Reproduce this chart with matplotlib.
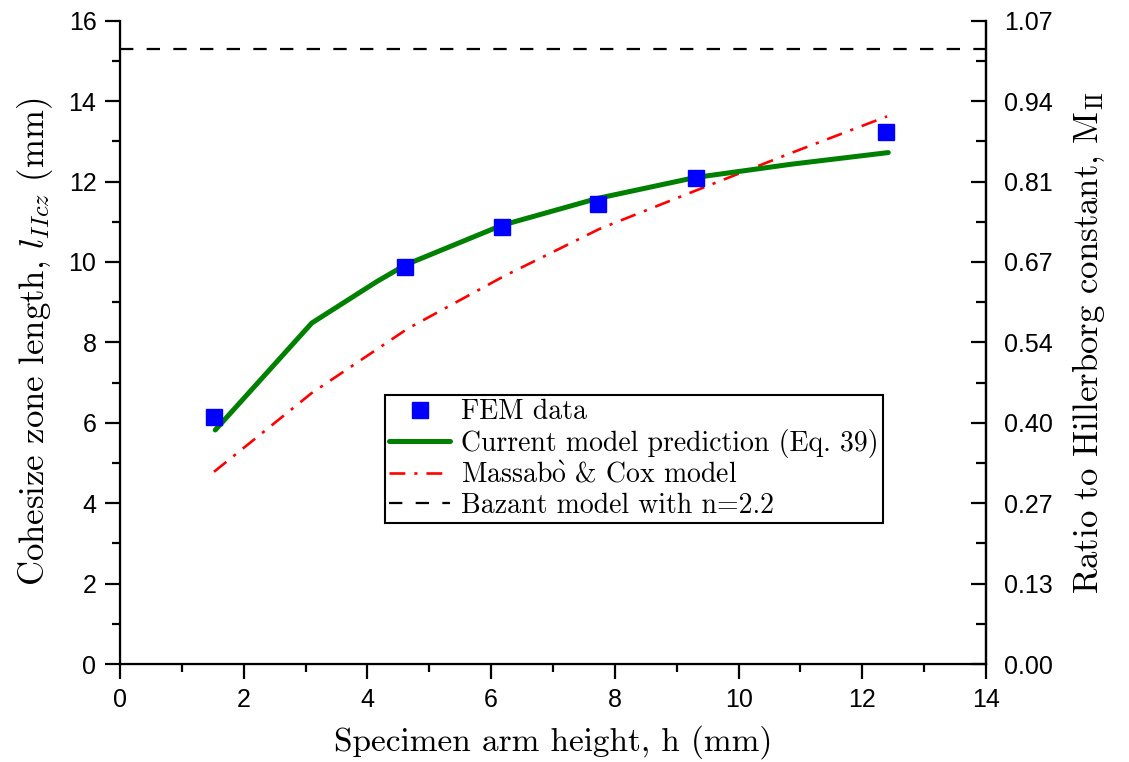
import matplotlib
matplotlib.use("Agg")
import matplotlib.pyplot as plt
from matplotlib.ticker import MultipleLocator, FixedLocator

# FEM results
fem_h = [1.52, 4.61, 6.17, 7.72, 9.31, 12.39]
fem_l = [6.14, 9.88, 10.88, 11.45, 12.10, 13.22]

# Current model prediction (Eq. 39)
cur_h = [1.54, 3.10, 4.15, 4.62, 6.17, 7.72, 9.30, 10.85, 12.42]
cur_l = [5.82, 8.48, 9.51, 9.93, 10.91, 11.58, 12.10, 12.43, 12.72]

# Massabò & Cox model
mc_h = [1.52, 3.10, 4.65, 6.20, 7.75, 9.30, 10.85, 12.40]
mc_l = [4.78, 6.74, 8.34, 9.64, 10.82, 11.77, 12.71, 13.62]

# Bazant model with n=2.2
bazant_l = 15.3

x_ticks = [0, 2, 4, 6, 8, 10, 12, 14]
y_ticks = [0, 2, 4, 6, 8, 10, 12, 14, 16]
ratio_labels = ["0.00", "0.13", "0.27", "0.40", "0.54", "0.67", "0.81", "0.94", "1.07"]

plt.rcParams["mathtext.fontset"] = "cm"
serif = ["cmr10", "DejaVu Serif"]
tick_font = "Liberation Sans"
tick_size = 18

fig = plt.figure(figsize=(11.29, 7.62), dpi=100)
ax = fig.add_axes([120 / 1129, 1 - 664 / 762, (986 - 120) / 1129, (664 - 20.7) / 762])

ax.plot(fem_h, fem_l, linestyle="none", marker="s", markersize=11,
        color="#0000ff", label="FEM data", zorder=4)
ax.plot(cur_h, cur_l, color="#008000", lw=3.6, solid_capstyle="round",
        label="Current model prediction (Eq. 39)", zorder=3)
ax.plot(mc_h, mc_l, color="#ff0000", lw=1.9, linestyle=(0, (6.0, 3.4, 1.2, 3.4)),
        label=r"Massab$\grave{\mathrm{o}}$ & Cox model", zorder=2)
ax.axhline(bazant_l, color="black", lw=1.6, linestyle=(0, (6.0, 6.0)),
           label="Bazant model with n=2.2", zorder=2)

ax.set_xlim(0, 14)
ax.set_ylim(0, 16)
ax.xaxis.set_major_locator(FixedLocator(x_ticks))
ax.yaxis.set_major_locator(FixedLocator(y_ticks))
ax.xaxis.set_minor_locator(MultipleLocator(1))
ax.yaxis.set_minor_locator(MultipleLocator(1))

ax.spines["top"].set_visible(False)
for side in ("left", "bottom", "right"):
    ax.spines[side].set_linewidth(1.6)

ax.tick_params(which="both", direction="out", width=1.6, top=False, right=False)
ax.tick_params(which="major", length=11, pad=6)
ax.tick_params(which="minor", length=6)
for lab in ax.get_xticklabels() + ax.get_yticklabels():
    lab.set_fontfamily(tick_font)
    lab.set_fontsize(tick_size)

# Secondary axis: ratio to Hillerborg constant
ax2 = ax.twinx()
ax2.set_ylim(0, 16)
ax2.yaxis.set_major_locator(FixedLocator(y_ticks))
ax2.yaxis.set_minor_locator(MultipleLocator(1))
ax2.set_yticklabels(ratio_labels)
ax2.spines["top"].set_visible(False)
ax2.spines["right"].set_linewidth(1.6)
ax2.tick_params(which="both", direction="in", width=1.6, left=False)
ax2.tick_params(which="major", length=11, pad=13)
ax2.tick_params(which="minor", length=7)
for lab in ax2.get_yticklabels():
    lab.set_fontfamily(tick_font)
    lab.set_fontsize(tick_size)

ax.set_xlabel("Specimen arm height, h (mm)", family=serif, fontsize=24, labelpad=10)
ax.set_ylabel(r"Cohesize zone length, $l_{IIcz}$ (mm)", family=serif, fontsize=25, labelpad=10)
ax2.set_ylabel(r"Ratio to Hillerborg constant, M$_{\rm II}$", family=serif, fontsize=25, labelpad=12)

leg = ax.legend(loc="upper left", bbox_to_anchor=((385 - 120) / 866, (664 - 395) / 643.3),
                prop={"family": serif, "size": 20}, frameon=True, fancybox=False,
                edgecolor="black", framealpha=1, borderpad=0.15, labelspacing=0.13,
                handlelength=2.2, handletextpad=0.4, borderaxespad=0)
leg.get_frame().set_linewidth(1.5)

fig.savefig("out.png", dpi=100)
